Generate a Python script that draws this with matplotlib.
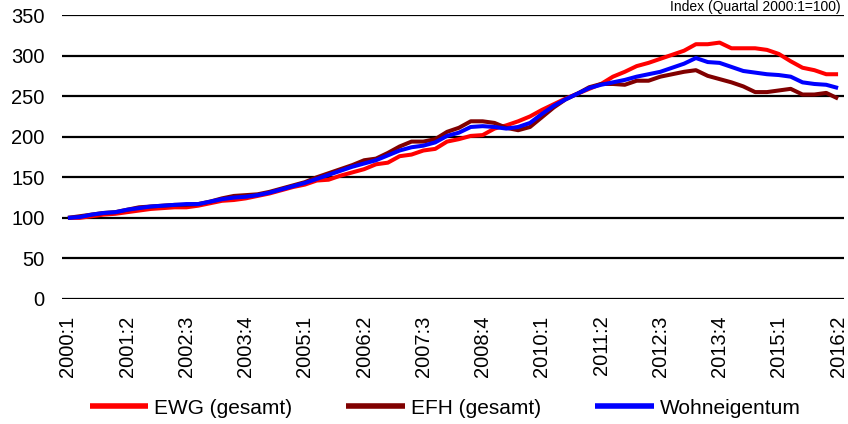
import matplotlib
matplotlib.use("Agg")
import matplotlib.pyplot as plt
import numpy as np

plt.rcParams['font.family'] = ['Liberation Sans', 'DejaVu Sans']

# Quarterly periods 2000:1 .. 2016:2
periods = [f"{y}:{q}" for y in range(2000, 2017) for q in range(1, 5)][:66]
tick_labels = periods[::5]

ewg = [100, 100, 102, 104, 105, 107, 109, 111, 112, 113,
       113, 115, 118, 121, 122, 124, 127, 130, 134, 138,
       141, 146, 147, 152, 156, 160, 166, 168, 176, 178,
       183, 185, 194, 197, 201, 202, 210, 214, 219, 225,
       233, 240, 247, 253, 259, 265, 274, 280, 287, 291,
       296, 301, 306, 314, 314, 316, 309, 309, 309, 307,
       302, 293, 285, 282, 277, 277]
efh = [100, 102, 104, 106, 107, 110, 113, 114, 115, 116,
       116, 117, 120, 124, 127, 128, 129, 132, 136, 140,
       144, 150, 155, 160, 165, 171, 173, 180, 188, 194,
       194, 197, 206, 211, 219, 219, 217, 211, 208, 212,
       224, 236, 246, 253, 261, 265, 265, 264, 269, 269,
       274, 277, 280, 282, 275, 271, 267, 262, 255, 255,
       257, 259, 252, 252, 254, 247]
woh = [100, 101, 104, 106, 107, 110, 112, 114, 115, 116,
       117, 117, 120, 123, 125, 126, 128, 131, 135, 139,
       143, 148, 153, 158, 163, 167, 171, 177, 183, 187,
       189, 193, 201, 205, 212, 213, 212, 210, 212, 217,
       228, 238, 246, 253, 260, 264, 267, 270, 274, 277,
       280, 285, 290, 297, 292, 291, 286, 281, 279, 277,
       276, 274, 267, 265, 264, 260]

series_names = ["EWG (gesamt)", "EFH (gesamt)", "Wohneigentum"]
colors = ["#FF0000", "#800000", "#0000FF"]

fig = plt.figure(figsize=(8.48, 4.24), dpi=100)
ax = fig.add_axes([62/848, 1-299/424, (844-62)/848, (299-15)/424])

x = np.arange(len(periods))
for vals, name, c in zip([ewg, efh, woh], series_names, colors):
    ax.plot(x, vals, color=c, lw=2.9, label=name, solid_capstyle='butt', zorder=3)

ax.set_xlim(-0.5, len(periods) - 0.5)
ax.set_ylim(0, 350)
ax.set_yticks(np.arange(0, 351, 50))
ax.set_xticks(x[::5])
ax.set_xticklabels(tick_labels, rotation=90)
ax.tick_params(axis='both', length=0, labelsize=14.5)
ax.tick_params(axis='y', pad=12.5)
ax.tick_params(axis='x', pad=12)
for s in ax.spines.values():
    s.set_visible(False)
ax.yaxis.grid(True, color='black', lw=1.6)
ax.set_axisbelow(True)

fig.text(841/848, 1 - 11/424, "Index (Quartal 2000:1=100)", ha='right', va='baseline', fontsize=10)

leg = fig.legend(loc='center', bbox_to_anchor=(0.525, 1 - 408/424), ncol=3, frameon=False,
                 fontsize=15, handlelength=2.8, handletextpad=0.3, columnspacing=2.6)
for line in leg.get_lines():
    line.set_linewidth(4)

fig.savefig("out.png", dpi=100)
